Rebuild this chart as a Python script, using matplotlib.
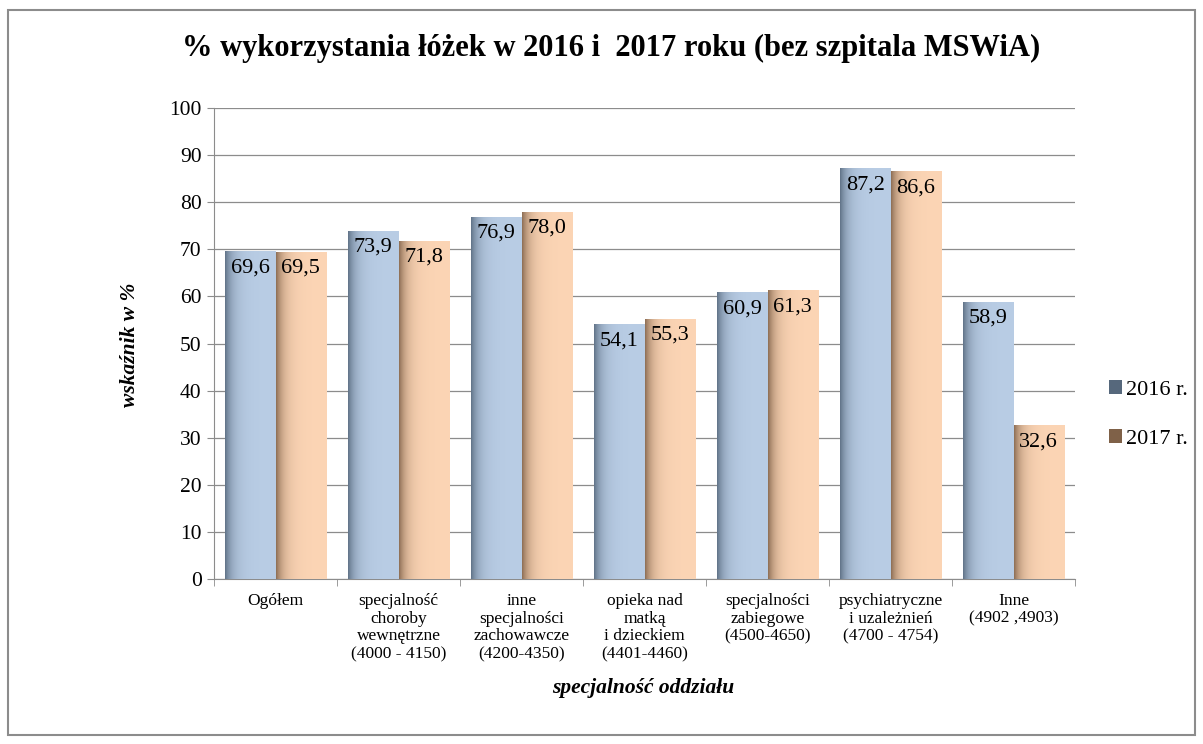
import numpy as np
import matplotlib
matplotlib.use("Agg")
import matplotlib.pyplot as plt
from matplotlib.patches import Rectangle, Patch
from matplotlib.colors import to_rgb

categories = ["Ogółem", "specjalność\nchoroby\nwewnętrzne\n(4000 - 4150)",
              "inne\nspecjalności\nzachowawcze\n(4200-4350)",
              "opieka nad\nmatką\ni dzieckiem\n(4401-4460)",
              "specjalności\nzabiegowe\n(4500-4650)",
              "psychiatryczne\ni uzależnień\n(4700 - 4754)",
              "Inne\n(4902 ,4903)"]
series_names = ["2016 r.", "2017 r."]
values_2016 = [69.6, 73.9, 76.9, 54.1, 60.9, 87.2, 58.9]
values_2017 = [69.5, 71.8, 78.0, 55.3, 61.3, 86.6, 32.6]
yticks = [0, 10, 20, 30, 40, 50, 60, 70, 80, 90, 100]

plt.rcParams['font.family'] = ['Liberation Serif', 'DejaVu Serif']

fig = plt.figure(figsize=(12.03, 7.44), dpi=100)
ax = fig.add_axes([214 / 1203, 0.2218, (1075 - 214) / 1203, 0.633])

base_cols = ["#B9CDE5", "#FCD5B5"]
dark_cols = ["#56687C", "#7F6148"]
w = 0.41
x = np.arange(len(categories))

def grad_bar(xc, h, base, dark):
    bars = ax.bar(xc, h, width=w, color=base, edgecolor='none', zorder=2)
    b = bars[0]
    t = np.linspace(0, 1, 200)
    f = np.exp(-t / 0.15) * 0.9
    c0 = np.array(to_rgb(dark)); c1 = np.array(to_rgb(base))
    img = (c1[None, :] * (1 - f[:, None]) + c0[None, :] * f[:, None])
    img = img[None, :, :]
    im = ax.imshow(img, extent=[xc - w / 2, xc + w / 2, 0, h], aspect='auto', zorder=3,
                   interpolation='bilinear')
    im.set_clip_path(b)
    return b

for i in range(len(categories)):
    for j, vals in enumerate([values_2016, values_2017]):
        xc = x[i] + (j - 0.5) * w
        grad_bar(xc, vals[i], base_cols[j], dark_cols[j])
        ax.annotate(f"{vals[i]:.1f}".replace('.', ','), (xc, vals[i]), xytext=(0, -5),
                    textcoords='offset points', ha='center', va='top', fontsize=16,
                    color='black', zorder=5)

ax.set_xlim(-0.5, len(categories) - 0.5)
ax.set_ylim(0, 100)
ax.set_yticks(yticks)
ax.set_yticklabels([str(v) for v in yticks], fontsize=15.5)
ax.yaxis.grid(True, color='#8C8C8C', linewidth=0.9, zorder=0)
ax.set_axisbelow(True)
ax.set_xticks(x)
ax.set_xticklabels(categories, fontsize=12.5, linespacing=1.15)
ax.tick_params(axis='x', length=0, pad=10)
ax.set_xticks(np.arange(-0.5, len(categories), 1), minor=True)
ax.tick_params(axis='x', which='minor', length=5, color='#8C8C8C', direction='out')
ax.tick_params(axis='y', length=5, color='#8C8C8C', direction='out', pad=4)
for s in ['top', 'right']:
    ax.spines[s].set_visible(False)
for s in ['left', 'bottom']:
    ax.spines[s].set_color('#8C8C8C')

fig.text(0.508, 0.935, "% wykorzystania łóżek w 2016 i  2017 roku (bez szpitala MSWiA)",
         ha='center', va='center', fontsize=22, fontweight='bold')
fig.text(0.108, 0.536, "wskaźnik w %", rotation=90, ha='center', va='center',
         fontsize=15.5, fontweight='bold', style='italic')
fig.text(0.535, 0.075, "specjalność oddziału", ha='center', va='center',
         fontsize=15.5, fontweight='bold', style='italic')

handles = [Patch(facecolor=dark_cols[0]), Patch(facecolor=dark_cols[1])]
leg = fig.legend(handles, series_names, loc='center left', bbox_to_anchor=(0.905, 0.443),
                 frameon=False, fontsize=16, handlelength=0.6, handleheight=0.6,
                 handletextpad=0.2, labelspacing=1.3)

fig.patches.append(Rectangle((0.007, 0.012), 0.986, 0.975, transform=fig.transFigure,
                             fill=False, edgecolor='#8C8C8C', linewidth=1.5))

fig.savefig("out.png", dpi=100)
